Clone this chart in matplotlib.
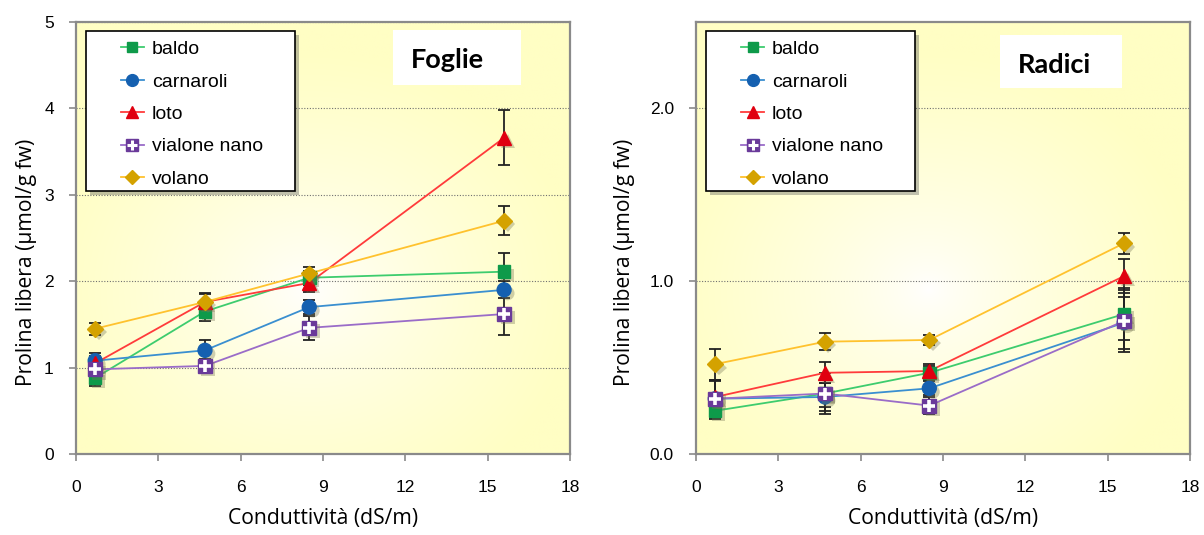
import numpy as np
import matplotlib
matplotlib.use("Agg")
import matplotlib.pyplot as plt
from matplotlib.lines import Line2D
from matplotlib.patches import Rectangle
from matplotlib.legend_handler import HandlerTuple
import matplotlib.patheffects as pe

# Conductivity levels (dS/m)
conduttivita = [0.7, 4.7, 8.5, 15.6]
varieta = ["baldo", "carnaroli", "loto", "vialone nano", "volano"]

# Free proline in leaves (umol/g fw) and standard errors
foglie_baldo = [0.88, 1.65, 2.04, 2.11]
foglie_carnaroli = [1.08, 1.20, 1.70, 1.90]
foglie_loto = [1.05, 1.76, 1.98, 3.66]
foglie_vialone = [0.98, 1.02, 1.46, 1.62]
foglie_volano = [1.45, 1.76, 2.09, 2.70]
err_foglie_baldo = [0.09, 0.11, 0.08, 0.22]
err_foglie_carnaroli = [0.09, 0.12, 0.08, 0.10]
err_foglie_loto = [0.08, 0.10, 0.10, 0.32]
err_foglie_vialone = [0.07, 0.08, 0.14, 0.24]
err_foglie_volano = [0.07, 0.09, 0.07, 0.17]

# Free proline in roots (umol/g fw) and standard errors
radici_baldo = [0.25, 0.35, 0.47, 0.81]
radici_carnaroli = [0.32, 0.33, 0.38, 0.76]
radici_loto = [0.33, 0.47, 0.48, 1.03]
radici_vialone = [0.32, 0.35, 0.28, 0.77]
radici_volano = [0.52, 0.65, 0.66, 1.22]
err_radici_baldo = [0.05, 0.08, 0.04, 0.15]
err_radici_carnaroli = [0.10, 0.08, 0.04, 0.15]
err_radici_loto = [0.10, 0.06, 0.04, 0.10]
err_radici_vialone = [0.11, 0.12, 0.05, 0.18]
err_radici_volano = [0.09, 0.05, 0.03, 0.06]

x_ticks = [0, 3, 6, 9, 12, 15, 18]

styles = {
    "baldo": dict(line="#3dcc6e", face="#0e9a4a", marker="s", ms=9),
    "carnaroli": dict(line="#3a8fd0", face="#1560b0", marker="o", ms=10),
    "loto": dict(line="#ff3b3b", face="#e00010", marker="^", ms=10),
    "vialone nano": dict(line="#9a6cc8", face="#6a3a9a", marker="s", ms=10),
    "volano": dict(line="#ffc22e", face="#d4a200", marker="D", ms=8),
}

label_font = "Open Sans"
tick_font = "Liberation Sans"
title_font = "Lato"

fig = plt.figure(figsize=(12.04, 5.35), dpi=100)
ax_f = fig.add_axes([0.0631, 0.1514, 0.4103, 0.8075])
ax_r = fig.add_axes([0.5781, 0.1514, 0.4103, 0.8075])


def background(ax):
    # pale yellow fill that fades to white toward the middle
    n = 300
    gx, gy = np.meshgrid(np.linspace(0, 1, n), np.linspace(0, 1, n))
    r = np.sqrt(((gx - 0.47) / 0.55) ** 2 + ((gy - 0.38) / 0.55) ** 2)
    t = np.clip(r, 0, 1) ** 0.7
    yellow = np.array([255, 254, 196]) / 255.0
    white = np.array([255, 255, 255]) / 255.0
    img = white[None, None, :] * (1 - t[..., None]) + yellow[None, None, :] * t[..., None]
    ax.imshow(img, extent=[0, 1, 0, 1], transform=ax.transAxes, origin="lower",
              aspect="auto", zorder=0, interpolation="bilinear")


def draw_panel(ax, series, errors, ymax, yticks, yticklabels, title, title_box, title_pos,
               ylabel_x):
    background(ax)
    ax.set_xlim(0, 18)
    ax.set_ylim(0, ymax)
    ax.set_xticks(x_ticks)
    ax.set_yticks(yticks)
    ax.set_xticklabels([str(v) for v in x_ticks], fontfamily=tick_font, fontsize=12.5)
    ax.set_yticklabels(yticklabels, fontfamily=tick_font, fontsize=12.5)
    ax.tick_params(direction="out", length=5, color="#8a8a8a", width=1.2)
    ax.tick_params(axis="x", pad=14)
    ax.tick_params(axis="y", pad=11)
    for s in ax.spines.values():
        s.set_color("#8a8a8a")
        s.set_linewidth(1.6)
    for yv in yticks[1:]:
        ax.axhline(yv, color="#707070", lw=0.8, ls=(0, (1, 1.5)), zorder=1)

    shadow = [pe.SimplePatchShadow(offset=(2.5, -2.5), alpha=0.35, shadow_rgbFace="#777755"), pe.Normal()]
    for name, vals, err in zip(varieta, series, errors):
        st = styles[name]
        ax.errorbar(conduttivita, vals, yerr=err, fmt="none", ecolor="#222222",
                    elinewidth=1.3, capsize=4, capthick=1.3, zorder=3)
        ax.plot(conduttivita, vals, color=st["line"], lw=1.3, zorder=4)
        m = ax.plot(conduttivita, vals, ls="none", marker=st["marker"], ms=st["ms"],
                    mfc=st["face"], mec=st["face"], zorder=5)[0]
        m.set_path_effects(shadow)
        if name == "vialone nano":
            ax.plot(conduttivita, vals, ls="none", marker="+", ms=8, mew=2.6,
                    color="white", zorder=6)

    # legend box with drop shadow
    box = Rectangle((0.02, 0.609), 0.423, 0.37, transform=ax.transAxes, facecolor="white",
                    edgecolor="black", lw=1.2, zorder=7)
    box.set_path_effects([pe.SimplePatchShadow(offset=(3, -3), alpha=0.35), pe.Normal()])
    ax.add_patch(box)
    handles = []
    for name in varieta:
        st = styles[name]
        h = Line2D([], [], color=st["line"], lw=1.3, marker=st["marker"], ms=st["ms"] * 0.85,
                   mfc=st["face"], mec=st["face"])
        if name == "vialone nano":
            hp = Line2D([], [], ls="none", marker="+", ms=7, mew=2.2, color="white")
            h = (h, hp)
        handles.append(h)
    leg = ax.legend(handles, varieta, loc="upper left", bbox_to_anchor=(0.075, 0.975),
                    frameon=False, prop=dict(family=tick_font, size=14),
                    handlelength=1.2, handletextpad=0.4, labelspacing=0.76, borderaxespad=0,
                    handler_map={tuple: HandlerTuple(ndivide=1, pad=0)})
    leg.set_zorder(8)

    # panel title in a white box
    tb = Rectangle((title_box[0], title_box[1]), title_box[2], title_box[3],
                   transform=ax.transAxes, facecolor="white", edgecolor="none", zorder=7)
    ax.add_patch(tb)
    ax.text(title_pos[0], title_pos[1], title,
            transform=ax.transAxes, ha="center", va="baseline", fontfamily=title_font,
            fontweight="bold", fontsize=19.5, zorder=8)

    ax.set_xlabel("Conduttività (dS/m)", fontfamily=label_font, fontsize=15.2)
    ax.set_ylabel("Prolina libera (µmol/g fw)", fontfamily=label_font, fontsize=15.2)
    ax.xaxis.set_label_coords(0.5, -0.125)
    ax.yaxis.set_label_coords(ylabel_x, 0.444)


draw_panel(ax_f,
           [foglie_baldo, foglie_carnaroli, foglie_loto, foglie_vialone, foglie_volano],
           [err_foglie_baldo, err_foglie_carnaroli, err_foglie_loto, err_foglie_vialone, err_foglie_volano],
           5, [0, 1, 2, 3, 4, 5], ["0", "1", "2", "3", "4", "5"], "Foglie",
           (0.642, 0.854, 0.259, 0.127), (0.751, 0.8935), -0.079)
draw_panel(ax_r,
           [radici_baldo, radici_carnaroli, radici_loto, radici_vialone, radici_volano],
           [err_radici_baldo, err_radici_carnaroli, err_radici_loto, err_radici_vialone, err_radici_volano],
           2.5, [0, 1, 2], ["0.0", "1.0", "2.0"], "Radici",
           (0.615, 0.847, 0.247, 0.123), (0.725, 0.882), -0.124)

fig.savefig("out.png", dpi=100, facecolor="white")
